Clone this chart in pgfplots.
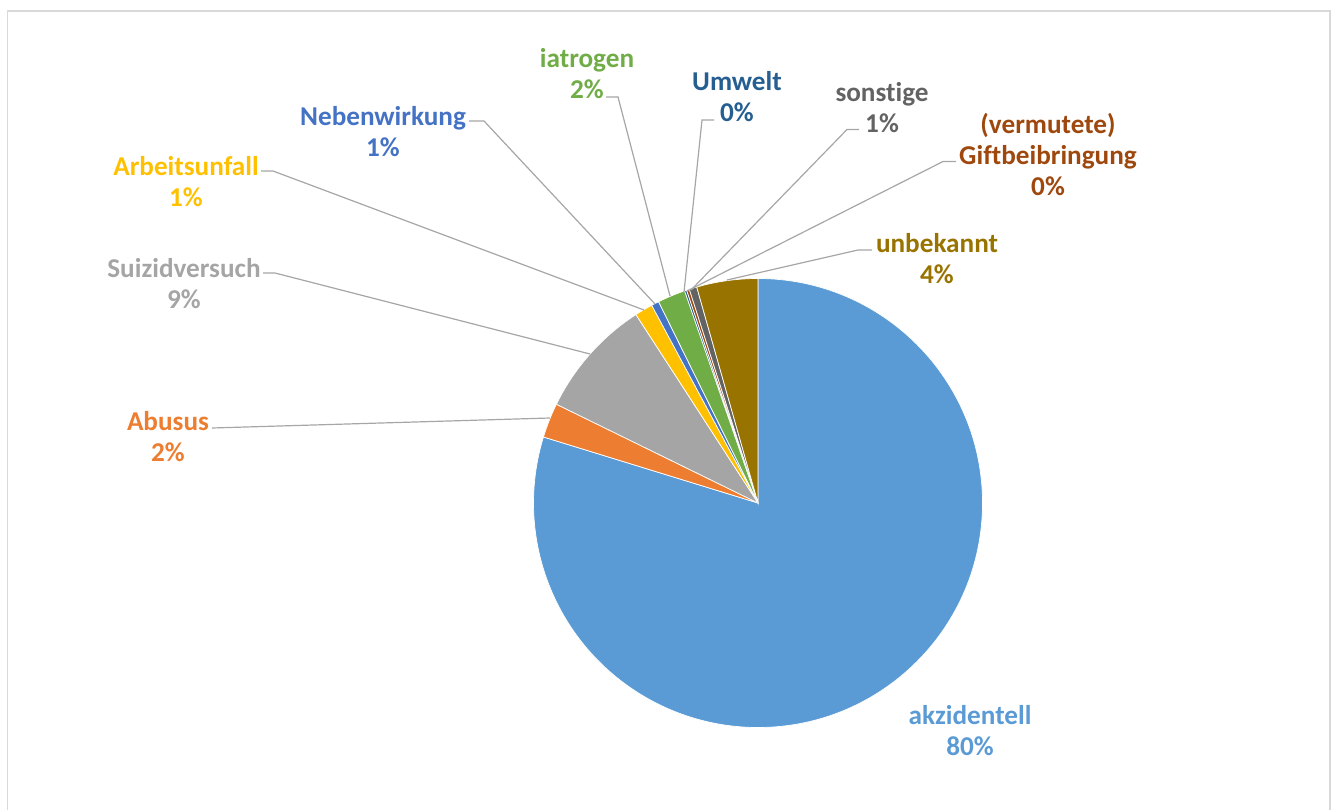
\documentclass[border=0pt]{standalone}
\usepackage{pgfplots}
\usepackage{pgfplotstable}
\pgfplotsset{compat=1.18}
\usepackage{fontspec}
\setmainfont{Carlito}[Ligatures={NoCommon,NoContextual}, RawFeature={-calt}]

\definecolor{cAkz}{HTML}{5B9BD5}
\definecolor{cAbu}{HTML}{ED7D31}
\definecolor{cSui}{HTML}{A5A5A5}
\definecolor{cArb}{HTML}{FFC000}
\definecolor{cNeb}{HTML}{4472C4}
\definecolor{cIat}{HTML}{70AD47}
\definecolor{cUmw}{HTML}{255E91}
\definecolor{cGif}{HTML}{9E480E}
\definecolor{cSon}{HTML}{636363}
\definecolor{cUnb}{HTML}{997300}
\definecolor{cLead}{HTML}{A6A6A6}
\definecolor{cBorder}{HTML}{D9D9D9}

% share of each cause in percent (clockwise from 12 o'clock)
\pgfplotstableread{
name            value  color
akzidentell     79.75  cAkz
Abusus          2.5    cAbu
Suizidversuch   8.6    cSui
Arbeitsunfall   1.3    cArb
Nebenwirkung    0.55   cNeb
iatrogen        2.0    cIat
Umwelt          0.15   cUmw
Giftbeibringung 0.2    cGif
sonstige        0.55   cSon
unbekannt       4.4    cUnb
}\piedata

\begin{document}
\begin{tikzpicture}[
  lbl/.style={align=center, inner sep=0pt,
    font=\fontsize{13.6}{15.5}\selectfont\bfseries},
  leader/.style={cLead, line width=0.6pt},
]
\begin{axis}[
  scale only axis, width=667.5pt, height=404.5pt,
  xmin=0, xmax=1335, ymin=-809, ymax=0,
  hide axis, clip=false,
]
% outer chart border
\draw[cBorder, line width=0.9pt] (axis cs:7.5,-11) rectangle (axis cs:1330,-840);

% pie slices from the data table
\pgfplotstablegetrowsof{\piedata}
\pgfmathtruncatemacro\nrows{\pgfplotsretval-1}
\def\cumval{0}
\pgfplotsforeachungrouped \i in {0,...,\nrows}{%
  \pgfplotstablegetelem{\i}{value}\of{\piedata}\let\slval\pgfplotsretval
  \pgfplotstablegetelem{\i}{color}\of{\piedata}\let\slcol\pgfplotsretval
  \pgfmathsetmacro\angA{90-3.6*\cumval}%
  \pgfmathsetmacro\angB{90-3.6*(\cumval+\slval)}%
  \pgfmathsetmacro\xA{758+224.5*cos(\angA)}%
  \pgfmathsetmacro\yA{-503+224.5*sin(\angA)}%
  \edef\temp{\noexpand\fill[\slcol, draw=white, line width=0.35pt]
    (axis cs:758,-503) -- (axis cs:\xA,\yA)
    arc[start angle=\angA, end angle=\angB, radius=112.25pt] -- cycle;}%
  \temp
  \pgfmathsetmacro\cumval{\cumval+\slval}%
}

% leader lines
\draw[leader] (axis cs:212,-428) -- (axis cs:550,-418);
\draw[leader] (axis cs:263,-273) -- (axis cs:275,-273) -- (axis cs:590,-354);
\draw[leader] (axis cs:261,-171) -- (axis cs:273,-171) -- (axis cs:644,-310);
\draw[leader] (axis cs:469,-121) -- (axis cs:484,-121) -- (axis cs:655,-304);
\draw[leader] (axis cs:606,-97) -- (axis cs:618,-97) -- (axis cs:670,-296);
\draw[leader] (axis cs:714,-120) -- (axis cs:702,-120) -- (axis cs:684,-292);
\draw[leader] (axis cs:859,-129.5) -- (axis cs:847,-129.5) -- (axis cs:691,-290);
\draw[leader] (axis cs:956,-161.5) -- (axis cs:943,-161.5) -- (axis cs:687,-291);
\draw[leader] (axis cs:872,-250) -- (axis cs:858,-250) -- (axis cs:727,-280);

% data labels
\node[lbl, text=cAkz] at (axis cs:970,-731) {akzidentell\\80\%};
\node[lbl, text=cAbu] at (axis cs:168,-437) {Abusus\\2\%};
\node[lbl, text=cSui] at (axis cs:184,-284) {Suizidversuch\\9\%};
\node[lbl, text=cArb] at (axis cs:186,-182) {Arbeitsunfall\\1\%};
\node[lbl, text=cNeb] at (axis cs:383,-132) {Nebenwirkung\\1\%};
\node[lbl, text=cIat] at (axis cs:587,-74) {iatrogen\\2\%};
\node[lbl, text=cUmw] at (axis cs:737,-97) {Umwelt\\0\%};
\node[lbl, text=cSon] at (axis cs:882,-107.5) {sonstige\\1\%};
\node[lbl, text=cGif] at (axis cs:1048,-155) {(vermutete)\\Giftbeibringung\\0\%};
\node[lbl, text=cUnb] at (axis cs:937,-259) {unbekannt\\4\%};
\end{axis}
\pgfresetboundingbox
\useasboundingbox (current axis.south west) rectangle (current axis.north east);
\end{tikzpicture}
\end{document}
